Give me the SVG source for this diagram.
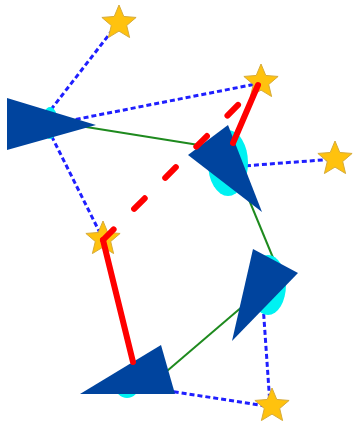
<svg xmlns="http://www.w3.org/2000/svg" xmlns:xlink="http://www.w3.org/1999/xlink" width="355" height="429" viewBox="0 0 355 429">
<style>
.dash{stroke:#1f1fff;stroke-width:3;stroke-dasharray:5,3;fill:none}
.green{stroke:#1e8a1e;stroke-width:2;fill:none}
.halo{fill:#00f2f2}
.tri{fill:#00449e}
.star{fill:#ffc20e;stroke:#d6ab3a;stroke-width:1}
.red{stroke:#ff0000;stroke-width:6;stroke-linecap:round;fill:none}
.reddash{stroke-dasharray:15,29}
</style>
<defs>
<polygon id="starshape" points="0,-18 4.76,-6.55 17.12,-5.56 7.7,2.5 10.58,14.56 0,8.1 -10.58,14.56 -7.7,2.5 -17.12,-5.56 -4.76,-6.55"/>
</defs>
<rect width="355" height="429" fill="#ffffff"/>
<g id="connectors">
<line class="dash" x1="46" y1="116" x2="118" y2="23"/>
<line class="dash" x1="60" y1="122.5" x2="261" y2="83"/>
<line class="dash" x1="48" y1="129" x2="102" y2="237"/>
<line class="dash" x1="230" y1="167" x2="335" y2="159"/>
<line class="dash" x1="262" y1="290" x2="270" y2="405"/>
<line class="dash" x1="150" y1="388" x2="272" y2="407"/>
<line class="green" x1="80" y1="126" x2="205" y2="146"/>
<line class="green" x1="245" y1="190" x2="276" y2="265"/>
<line class="green" x1="250" y1="300" x2="160" y2="377"/>
</g>
<g id="node-tri1">
<ellipse class="halo" cx="50" cy="123" rx="8" ry="16"/>
<polygon class="tri" points="7,98 7,150 96,125"/>
</g>
<g id="node-tri2">
<ellipse class="halo" cx="228" cy="163" rx="20" ry="33"/>
<polygon class="tri" points="188,155 228,125 262,212"/>
</g>
<g id="node-tri3">
<ellipse class="halo" cx="268" cy="285" rx="18" ry="30"/>
<polygon class="tri" points="253,249 298,273 232,341"/>
</g>
<g id="node-tri4">
<ellipse class="halo" cx="127" cy="385" rx="12" ry="13"/>
<polygon class="tri" points="80,394 161,345 175,394"/>
</g>
<g id="node-star1"><use xlink:href="#starshape" class="star" x="119" y="23"/></g>
<g id="node-star2"><use xlink:href="#starshape" class="star" x="261" y="82"/></g>
<g id="node-star3"><use xlink:href="#starshape" class="star" x="335" y="159"/></g>
<g id="node-star4"><use xlink:href="#starshape" class="star" x="103" y="239"/></g>
<g id="node-star5"><use xlink:href="#starshape" class="star" x="272" y="406"/></g>
<g id="red-connectors">
<line class="red" x1="133" y1="362" x2="103" y2="240"/>
<line class="red reddash" x1="103" y1="240" x2="258" y2="85"/>
<line class="red" x1="258" y1="85" x2="233" y2="143"/>
</g>
</svg>
